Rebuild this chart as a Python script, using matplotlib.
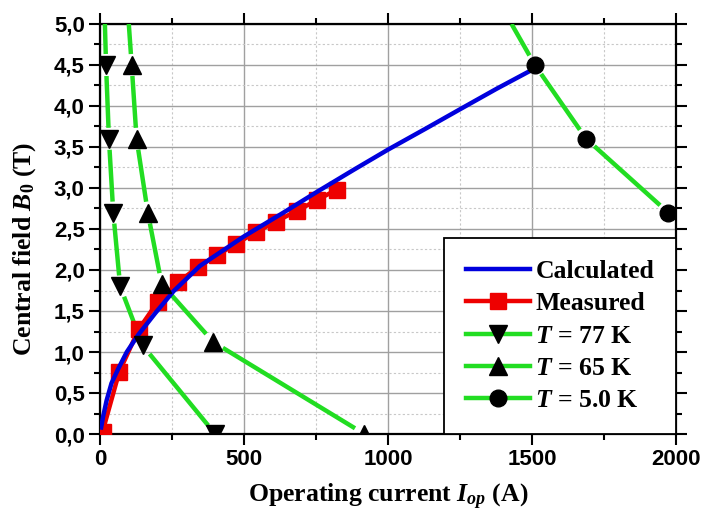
import numpy as np
import matplotlib
matplotlib.use("Agg")
import matplotlib.pyplot as plt
from matplotlib.lines import Line2D
from matplotlib.ticker import MultipleLocator, FuncFormatter

# ---------------- data ----------------
calc_I = [4, 10, 23, 40, 64, 93, 133, 191, 255, 347, 500, 637, 752, 880, 1001, 1134, 1250, 1377, 1505]
calc_B = [0.08, 0.20, 0.41, 0.62, 0.80, 1.00, 1.21, 1.47, 1.74, 2.05, 2.41, 2.70, 2.95, 3.22, 3.47, 3.73, 3.96, 4.21, 4.45]

meas_I = [9, 67, 135, 200, 272, 341, 407, 472, 541, 610, 683, 752, 822]
meas_B = [0.03, 0.76, 1.28, 1.61, 1.85, 2.04, 2.18, 2.32, 2.46, 2.59, 2.72, 2.85, 2.98]

# first point of each T-curve is where the line leaves the top of the frame (no symbol)
t77_I = [17, 21, 31, 46, 70, 148, 400]
t77_B = [5.0, 4.5, 3.6, 2.7, 1.8, 1.08, 0.0]
t65_I = [100, 110, 127, 166, 214, 394, 918]
t65_B = [5.0, 4.5, 3.6, 2.7, 1.83, 1.12, 0.0]
t5_I = [1429, 1510, 1688, 1973]
t5_B = [5.0, 4.5, 3.6, 2.7]

x_ticks = [0, 500, 1000, 1500, 2000]
y_ticks = [0.0, 0.5, 1.0, 1.5, 2.0, 2.5, 3.0, 3.5, 4.0, 4.5, 5.0]

# ---------------- style ----------------
plt.rcParams['mathtext.fontset'] = 'custom'
plt.rcParams['mathtext.rm'] = 'Liberation Serif:bold'
plt.rcParams['mathtext.it'] = 'Liberation Serif:bold:italic'
plt.rcParams['mathtext.bf'] = 'Liberation Serif:bold'

W, H = 705, 517
fig = plt.figure(figsize=(W / 100, H / 100), dpi=100)
ax = fig.add_axes([100 / W, 1 - 434 / H, 576 / W, 410 / H])
ax.set_xlim(0, 2000)
ax.set_ylim(0, 5.0)

GREEN = '#22dd22'
BLUE = '#0000dd'
RED = '#ee0000'

ax.xaxis.set_major_locator(MultipleLocator(500))
ax.xaxis.set_minor_locator(MultipleLocator(250))
ax.yaxis.set_major_locator(MultipleLocator(0.5))
ax.yaxis.set_minor_locator(MultipleLocator(0.25))
ax.set_xticks(x_ticks)
ax.set_yticks(y_ticks)
ax.yaxis.set_major_formatter(FuncFormatter(lambda v, p: f"{v:.1f}".replace('.', ',')))
ax.xaxis.set_major_formatter(FuncFormatter(lambda v, p: f"{v:.0f}"))

ax.grid(which='major', color='#a0a0a0', linewidth=1.0, linestyle='-', zorder=0)
ax.grid(which='minor', color='#c8c8c8', linewidth=0.8, linestyle=(0, (2, 2)), zorder=0)
ax.set_axisbelow(True)

for s in ax.spines.values():
    s.set_linewidth(1.6)
    s.set_color('black')
ax.tick_params(which='both', direction='out', top=True, right=True, width=1.5, colors='black')
ax.tick_params(which='major', length=8)
ax.tick_params(which='minor', length=4)
ax.tick_params(axis='both', which='major', labelsize=16, pad=3)
ax.tick_params(top=True, right=True, labeltop=False, labelright=False)
for lab in ax.get_xticklabels() + ax.get_yticklabels():
    lab.set_fontfamily('Liberation Sans')
    lab.set_fontweight('bold')


def gapped_line(xs, ys, marked, gap_px, **kw):
    pts = ax.transData.transform(np.column_stack([xs, ys]))
    inv = ax.transData.inverted()
    sx, sy = [], []
    for i in range(len(pts) - 1):
        p0, p1 = pts[i], pts[i + 1]
        d = p1 - p0
        L = np.hypot(*d)
        g0 = gap_px if marked[i] else 0.0
        g1 = gap_px if marked[i + 1] else 0.0
        if L <= g0 + g1:
            continue
        u = d / L
        seg = inv.transform(np.array([p0 + u * g0, p1 - u * g1]))
        sx += [seg[0, 0], seg[1, 0], np.nan]
        sy += [seg[0, 1], seg[1, 1], np.nan]
    ax.plot(sx, sy, **kw)


LW = 3.2
GAP = 11
for xs, ys in [(t77_I, t77_B), (t65_I, t65_B), (t5_I, t5_B)]:
    marked = [False] + [True] * (len(xs) - 1)
    gapped_line(xs, ys, marked, GAP, color=GREEN, lw=LW, solid_capstyle='butt', zorder=3)

ax.plot(meas_I, meas_B, color=RED, lw=LW, marker='s', ms=11, mec=RED, mfc=RED, zorder=4)
ax.plot(calc_I, calc_B, color=BLUE, lw=LW, zorder=5)

ax.plot(t77_I[1:], t77_B[1:], ls='none', marker='v', ms=13, color='black', zorder=6)
ax.plot(t65_I[1:], t65_B[1:], ls='none', marker='^', ms=13, color='black', zorder=6)
ax.plot(t5_I[1:], t5_B[1:], ls='none', marker='o', ms=12, color='black', zorder=6)

handles = [
    Line2D([], [], color=BLUE, lw=LW),
    Line2D([], [], color=RED, lw=LW, marker='s', ms=11),
    Line2D([], [], color=GREEN, lw=LW, marker='v', ms=13, mfc='black', mec='black'),
    Line2D([], [], color=GREEN, lw=LW, marker='^', ms=13, mfc='black', mec='black'),
    Line2D([], [], color=GREEN, lw=LW, marker='o', ms=12, mfc='black', mec='black'),
]
labels = ['Calculated', 'Measured', r'$T$ = 77 K', r'$T$ = 65 K', r'$T$ = 5.0 K']
leg = ax.legend(handles, labels, loc='lower right', borderaxespad=0, frameon=True,
                fancybox=False, framealpha=1, edgecolor='black', handlelength=2.5,
                handletextpad=0.2, labelspacing=0.36, borderpad=0.85,
                prop={'family': 'Liberation Serif', 'weight': 'bold', 'size': 18.5})
leg.get_frame().set_linewidth(1.3)
leg.set_zorder(10)

fig.text(388 / W, 1 - 497 / H, r'Operating current $I_{op}$ (A)', ha='center', va='center',
         fontsize=18.5, family='Liberation Serif', weight='bold')
fig.text(25 / W, 1 - 249 / H, r'Central field $B_{\mathit{0}}$ (T)', ha='center', va='center',
         rotation=90, fontsize=18.5, family='Liberation Serif', weight='bold')

fig.savefig('out.png', dpi=100)
